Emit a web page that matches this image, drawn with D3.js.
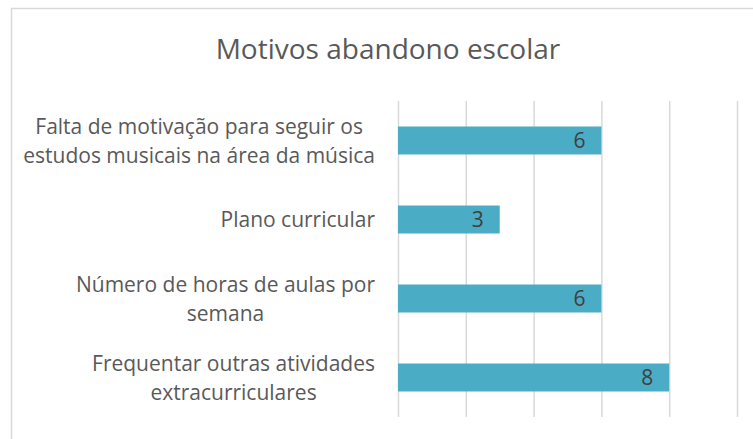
<!DOCTYPE html>
<html>
<head>
<meta charset="utf-8">
<script src="https://cdn.jsdelivr.net/npm/d3@7"></script>
<style>
  html, body { margin: 0; padding: 0; background: #fff; }
  svg { display: block; font-family: "Open Sans", sans-serif; }
</style>
</head>
<body>
<figure id="bar" style="margin:0"></figure>
<script>
const title = "Motivos abandono escolar";
const categories = [
  "Falta de motivação para seguir os\nestudos musicais na área da música",
  "Plano curricular",
  "Número de horas de aulas por\nsemana",
  "Frequentar outras atividades\nextracurriculares"
];
const values = [6, 3, 6, 8];
const xTicks = [0, 2, 4, 6, 8, 10];

const W = 753, H = 439;
const plot = { left: 398, right: 737, top: 101, bottom: 417 };

const svg = d3.select("figure#bar")
  .append("svg")
  .attr("width", W)
  .attr("height", H);

svg.append("rect")
  .attr("width", W).attr("height", H)
  .attr("fill", "#fff");

// chart area border (cut off at right/bottom like the source)
svg.append("rect")
  .attr("x", 11.5).attr("y", 8.5)
  .attr("width", 800).attr("height", 500)
  .attr("fill", "none")
  .attr("stroke", "#d9d9d9")
  .attr("stroke-width", 1.5);

svg.append("text")
  .attr("x", 388)
  .attr("y", 59)
  .attr("text-anchor", "middle")
  .attr("font-size", 28)
  .attr("fill", "#595959")
  .text(title);

const x = d3.scaleLinear()
  .domain([0, 10])
  .range([plot.left, plot.right]);

const y = d3.scaleBand()
  .domain(categories)
  .range([plot.top, plot.bottom])
  .paddingInner(0.646)
  .paddingOuter(0.323);

// vertical gridlines
const grid = svg.append("g")
  .attr("transform", "translate(0," + plot.bottom + ")")
  .call(d3.axisBottom(x).tickValues(xTicks).tickSize(-(plot.bottom - plot.top)).tickFormat(""));
grid.select(".domain").remove();
grid.selectAll(".tick line")
  .attr("stroke", "#d9d9d9")
  .attr("stroke-width", 1.5);

// bars
svg.selectAll("rect.bar")
  .data(values)
  .enter()
  .append("rect")
  .attr("class", "bar")
  .attr("x", x(0))
  .attr("y", (d, i) => y(categories[i]))
  .attr("width", d => x(d) - x(0))
  .attr("height", y.bandwidth())
  .attr("fill", "#4bacc6");

// value labels
svg.selectAll("text.val")
  .data(values)
  .enter()
  .append("text")
  .attr("class", "val")
  .attr("x", d => x(d) - 16)
  .attr("y", (d, i) => y(categories[i]) + y.bandwidth() / 2)
  .attr("dy", "0.36em")
  .attr("text-anchor", "end")
  .attr("font-size", 21)
  .attr("fill", "#404040")
  .text(d => d);

// category axis
const yAxis = svg.append("g")
  .attr("transform", "translate(" + plot.left + ",0)")
  .call(d3.axisLeft(y).tickSize(0).tickPadding(0));
yAxis.select(".domain").remove();

const labelRight = 375;
const lineH = 29;
yAxis.selectAll(".tick text").each(function(d) {
  const t = d3.select(this);
  const lines = d.split("\n");
  t.text(null)
    .attr("x", null).attr("dy", null)
    .attr("font-family", "Open Sans, sans-serif")
    .attr("font-size", 21)
    .attr("fill", "#595959")
    .attr("text-anchor", "middle");
  const spans = lines.map((ln, i) => t.append("tspan")
    .attr("dy", i === 0 ? ((-(lines.length - 1) / 2) * lineH + 7.5) : lineH)
    .text(ln));
  const maxW = d3.max(spans, s => s.node().getComputedTextLength());
  const cx = labelRight - plot.left - maxW / 2;
  spans.forEach(s => s.attr("x", cx));
});
</script>
</body>
</html>
